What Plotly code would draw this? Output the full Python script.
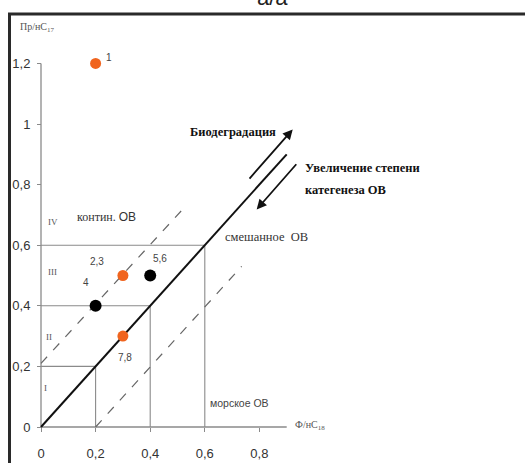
import plotly.graph_objects as go

# ---------------- data ----------------
orange_x = [0.2, 0.3, 0.3]
orange_y = [1.2, 0.5, 0.3]
orange_labels = ["1", "2,3", "7,8"]
black_x = [0.2, 0.4]
black_y = [0.4, 0.5]
black_labels = ["4", "5,6"]

x_tickvals = [0, 0.2, 0.4, 0.6, 0.8]
x_ticktext = ["0", "0,2", "0,4", "0,6", "0,8"]
y_tickvals = [0, 0.2, 0.4, 0.6, 0.8, 1.0, 1.2]
y_ticktext = ["0", "0,2", "0,4", "0,6", "0,8", "1", "1,2"]

x_axis_end = 0.9
y_axis_end = 1.2
guide_levels = [0.2, 0.4, 0.6]
main_line_x = [0, 0.9]
main_line_y = [0, 0.9]
upper_dash_x = [0.0, 0.534]
upper_dash_y = [0.21, 0.733]
lower_dash_x = [0.2, 0.735]
lower_dash_y = [0.0, 0.53]
bio_arrow = [(0.759, 0.815), (0.922, 0.982)]   # tail, head
cat_arrow = [(0.940, 0.872), (0.790, 0.718)]   # tail, head
region_labels = ["IV", "III", "II", "I"]

# ---------------- layout geometry ----------------
W, H = 525, 463
L, B, T, R = 36, 31, 14, 0
PW, PH = W - L - R, H - B - T
SX, SY = 273.0, 303.0          # px per unit
X0PX, Y0PX = 41, 427           # pixel of data origin


def px(xp):
    return (xp - L) / PW


def py(yp):
    return (H - B - yp) / PH


GRAY = "#8a8a8a"
ORANGE = "#F0641E"
SERIF = "Liberation Serif"
SANS = "Liberation Sans"

fig = go.Figure()

# axis lines
fig.add_trace(go.Scatter(x=[0, x_axis_end], y=[0, 0], mode="lines",
                         line=dict(color=GRAY, width=1.3), hoverinfo="skip"))
fig.add_trace(go.Scatter(x=[0, 0], y=[0, y_axis_end], mode="lines",
                         line=dict(color=GRAY, width=1.3), hoverinfo="skip"))
# guide boxes
for v in guide_levels:
    fig.add_trace(go.Scatter(x=[0, v, v], y=[v, v, 0], mode="lines",
                             line=dict(color=GRAY, width=1.1), hoverinfo="skip"))
# dashed lines
fig.add_trace(go.Scatter(x=upper_dash_x, y=upper_dash_y, mode="lines",
                         line=dict(color="#666", width=1.2, dash="dash"), hoverinfo="skip"))
fig.add_trace(go.Scatter(x=lower_dash_x, y=lower_dash_y, mode="lines",
                         line=dict(color="#666", width=1.2, dash="dash"), hoverinfo="skip"))
# main line
fig.add_trace(go.Scatter(x=main_line_x, y=main_line_y, mode="lines",
                         line=dict(color="#111", width=2), hoverinfo="skip"))
# points
fig.add_trace(go.Scatter(x=orange_x, y=orange_y, mode="markers",
                         marker=dict(color=ORANGE, size=11), cliponaxis=False))
fig.add_trace(go.Scatter(x=black_x, y=black_y, mode="markers",
                         marker=dict(color="#000", size=12), cliponaxis=False))

ann = []
# point labels
shifts = {"1": (13, 6), "2,3": (-26, 14), "7,8": (2, -21), "4": (-10, 23), "5,6": (10, 17)}
for xs, ys, labs in [(orange_x, orange_y, orange_labels), (black_x, black_y, black_labels)]:
    for xv, yv, lab in zip(xs, ys, labs):
        dx, dy = shifts[lab]
        ann.append(dict(x=xv, y=yv, xref="x", yref="y", text=lab, showarrow=False,
                        xshift=dx, yshift=dy,
                        font=dict(family=SANS, size=10, color="#444")))

# arrows
for (tx, ty), (hx, hy) in [bio_arrow, cat_arrow]:
    ann.append(dict(x=hx, y=hy, ax=tx, ay=ty, xref="x", yref="y", axref="x", ayref="y",
                    text="", showarrow=True, arrowhead=2, arrowsize=1.1, arrowwidth=1.8,
                    arrowcolor="#111", standoff=0, startstandoff=0))

# texts
def text_ann(xp, yp, text, family=SERIF, size=12, color="#111", xanchor="center", yanchor="middle"):
    ann.append(dict(x=px(xp), y=py(yp), xref="paper", yref="paper", text=text, showarrow=False,
                    xanchor=xanchor, yanchor=yanchor, font=dict(family=family, size=size, color=color)))

text_ann(272, 11.5, "a/a", family=SANS, size=22, color="#222", yanchor="bottom")
text_ann(18, 27, "Пр/нС<sub>17</sub>", family=SERIF, size=10, color="#555", xanchor="left")
text_ann(293, 425, "Ф/нС<sub>18</sub>", family=SERIF, size=10, color="#555", xanchor="left")
text_ann(233, 132, "<b>Биодеградация</b>", size=12.5)
text_ann(303, 168, "<b>Увеличение степени</b>", size=12.5, xanchor="left")
text_ann(303, 190, "<b>категенеза ОВ</b>", size=12.5, xanchor="left")
text_ann(223, 237, "смешанное\u00a0\u00a0ОВ", size=12.5, color="#333", xanchor="left")
text_ann(75, 217, "контин.\u00a0<span style='font-family:Liberation Sans'>ОВ</span>",
         size=12, color="#333", xanchor="left")
text_ann(208, 403, "морское ОВ", family=SANS, size=10.5, color="#444", xanchor="left")
for lab, (xp, yp) in zip(region_labels, [(53, 222), (52, 272), (49, 337), (45, 388)]):
    text_ann(xp, yp, lab, size=9, color="#555")

# border box
shapes = [
    dict(type="line", xref="paper", yref="paper", x0=px(8), x1=px(525), y0=py(14), y1=py(14),
         line=dict(color="#2a2a2a", width=3)),
    dict(type="line", xref="paper", yref="paper", x0=px(9.5), x1=px(9.5), y0=py(14), y1=py(463),
         line=dict(color="#2a2a2a", width=3)),
]

fig.update_layout(
    width=W, height=H,
    margin=dict(l=L, r=R, t=T, b=B),
    paper_bgcolor="white", plot_bgcolor="white",
    showlegend=False,
    annotations=ann, shapes=shapes,
    xaxis=dict(range=[-(X0PX - L) / SX, (W - R - X0PX) / SX], anchor="free",
               position=(H - B - Y0PX) / PH,
               showgrid=False, zeroline=False, showline=False,
               tickmode="array", tickvals=x_tickvals, ticktext=x_ticktext,
               ticks="outside", ticklen=4, tickcolor=GRAY, tickwidth=1,
               ticklabelstandoff=10,
               tickfont=dict(family=SANS, size=13, color="#333")),
    yaxis=dict(range=[-(H - B - Y0PX) / SY, (Y0PX - T) / SY], anchor="free",
               position=(X0PX - L) / PW,
               showgrid=False, zeroline=False, showline=False,
               tickmode="array", tickvals=y_tickvals, ticktext=y_ticktext,
               ticks="outside", ticklen=4, tickcolor=GRAY, tickwidth=1,
               ticklabelstandoff=4,
               tickfont=dict(family=SANS, size=13, color="#333")),
)

fig.write_html("out.html", config={"displayModeBar": False},
               post_script="document.body.style.margin='0';document.body.style.overflow='hidden';")
